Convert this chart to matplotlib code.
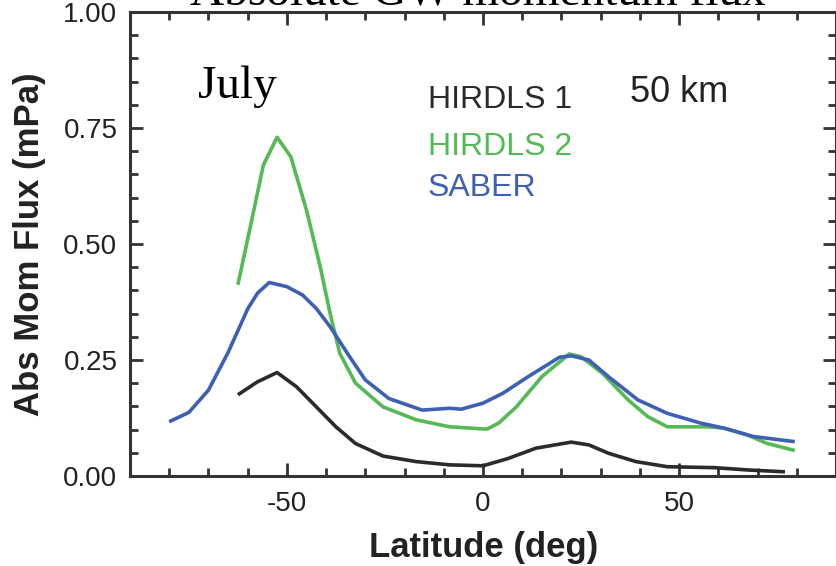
import matplotlib
matplotlib.use("Agg")
import matplotlib.pyplot as plt
from matplotlib.ticker import MultipleLocator, FixedLocator

# ---- data ----
saber_lat = [-80, -75, -70, -65, -60, -57.5, -54.5, -50, -46, -42.5, -39, -34, -30, -24,
             -15.5, -8.5, -5.5, 0, 5, 11.5, 19.5, 22.5, 27, 32, 39.5, 47, 55.5, 61.5, 69, 79.5]
saber_val = [0.117, 0.137, 0.185, 0.266, 0.360, 0.394, 0.417, 0.408, 0.390, 0.361, 0.322,
             0.257, 0.207, 0.167, 0.142, 0.146, 0.144, 0.157, 0.178, 0.214, 0.256, 0.259,
             0.250, 0.214, 0.164, 0.135, 0.114, 0.103, 0.085, 0.074]

hirdls2_lat = [-62.5, -59.5, -56, -52.5, -49, -45, -41.5, -39, -36.5, -32.5, -25.5, -17,
               -8.5, 1, 4, 8.5, 15, 22, 25, 30.5, 37, 42, 47, 57.5, 61.5, 67.5, 72.5, 79.5]
hirdls2_val = [0.412, 0.530, 0.670, 0.730, 0.688, 0.573, 0.451, 0.351, 0.264, 0.200, 0.149,
               0.121, 0.106, 0.101, 0.114, 0.149, 0.214, 0.263, 0.257, 0.221, 0.164, 0.128,
               0.106, 0.106, 0.103, 0.088, 0.070, 0.055]

hirdls1_lat = [-62.5, -57.5, -52.5, -47.5, -42.5, -37.5, -32.5, -25.5, -17, -8.5, 0, 6.5,
               13.5, 22.5, 27, 32, 39, 47, 59, 67.5, 77]
hirdls1_val = [0.175, 0.203, 0.223, 0.192, 0.149, 0.106, 0.070, 0.043, 0.031, 0.024, 0.022,
               0.038, 0.060, 0.073, 0.067, 0.049, 0.031, 0.020, 0.018, 0.013, 0.009]

x_major = [-50, 0, 50]
x_labels = ["-50", "0", "50"]
y_major = [0.0, 0.25, 0.50, 0.75, 1.00]
y_labels = ["0.00", "0.25", "0.50", "0.75", "1.00"]

C_BLACK = "#2b2b2b"
C_GREEN = "#55b955"
C_BLUE = "#3d60b4"

W, H = 837, 566
fig = plt.figure(figsize=(W / 100, H / 100), dpi=100)
ax = fig.add_axes([130 / W, 1 - 476 / H, (836 - 130) / W, (476 - 12) / H])

lw = 2.6
ax.plot(hirdls1_lat, hirdls1_val, color=C_BLACK, lw=lw, solid_capstyle="butt")
ax.plot(hirdls2_lat, hirdls2_val, color=C_GREEN, lw=lw, solid_capstyle="butt")
ax.plot(saber_lat, saber_val, color=C_BLUE, lw=lw, solid_capstyle="butt")

ax.set_xlim(-90, 90)
ax.set_ylim(0, 1.0)
ax.xaxis.set_major_locator(FixedLocator(x_major))
ax.set_xticklabels(x_labels)
ax.xaxis.set_minor_locator(MultipleLocator(10))
ax.yaxis.set_major_locator(FixedLocator(y_major))
ax.set_yticklabels(y_labels)
ax.yaxis.set_minor_locator(MultipleLocator(0.05))

for s in ax.spines.values():
    s.set_linewidth(2.2)
    s.set_color("#333333")

ax.tick_params(which="both", direction="in", top=True, right=True, color="#333333", width=2.0)
ax.tick_params(which="major", length=9.5)
ax.tick_params(which="minor", length=5.5)
ax.tick_params(axis="x", which="major", pad=11, labelsize=20, labelcolor="#222222")
ax.tick_params(axis="y", which="major", pad=9, labelsize=20, labelcolor="#222222")
for lab in ax.get_xticklabels() + ax.get_yticklabels():
    lab.set_family("Liberation Sans")

# axis labels
fig.text(30 / W, 1 - 244 / H, "Abs Mom Flux (mPa)", rotation=90, ha="center", va="center",
         fontsize=25, fontweight="bold", family="Liberation Sans", color="#222222")
fig.text(484 / W, 1 - 557 / H, "Latitude (deg)", ha="center", va="baseline",
         fontsize=25, fontweight="bold", family="Liberation Sans", color="#222222")

# clipped title
fig.text(478 / W, 1 - 4.5 / H, "Absolute GW momentum flux", ha="center", va="baseline",
         fontsize=34, family="Liberation Serif", color="black")

# annotations
fig.text(198 / W, 1 - 98 / H, "July", ha="left", va="baseline",
         fontsize=34, family="Liberation Serif", color="black")
fig.text(630 / W, 1 - 102 / H, "50 km", ha="left", va="baseline",
         fontsize=26, family="Liberation Sans", color="#222222")

leg_items = [("HIRDLS 1", C_BLACK, 100), ("HIRDLS 2", C_GREEN, 147), ("SABER", C_BLUE, 188)]
for txt, col, yc in leg_items:
    fig.text(428 / W, 1 - yc / H, txt, ha="left", va="center",
             fontsize=23, family="Liberation Sans", color=col)

fig.savefig("out.png", dpi=100)
